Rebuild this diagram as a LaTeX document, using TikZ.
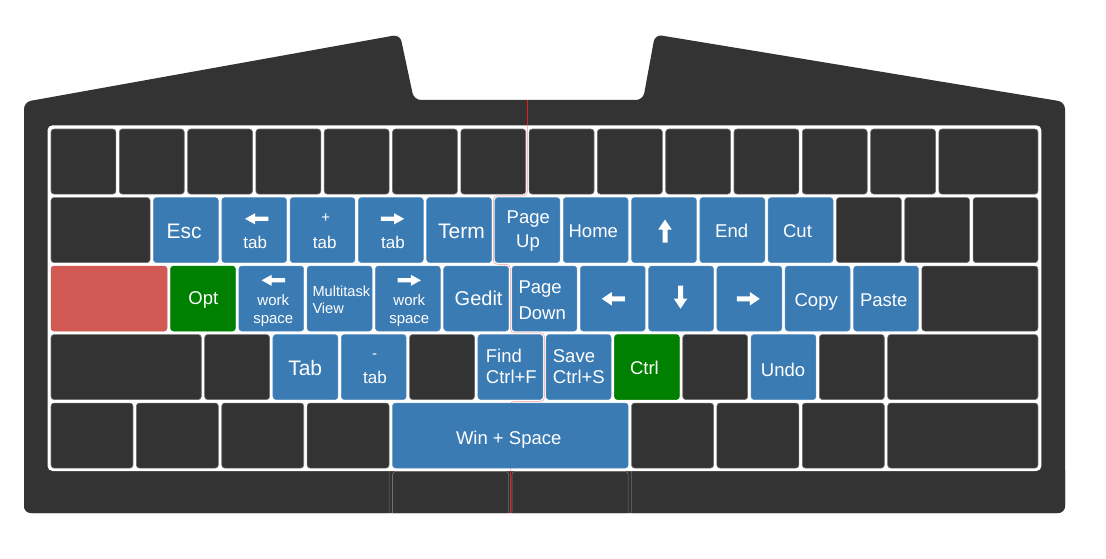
\documentclass[tikz,border=0pt]{standalone}
\usepackage{fontspec}
\setmainfont{Liberation Sans}
\definecolor{keyblue}{HTML}{3B7BB4}
\definecolor{keydark}{HTML}{333333}
\definecolor{keyred}{HTML}{D25A55}
\definecolor{keygreen}{HTML}{008000}
\definecolor{keyrim}{HTML}{707070}
\definecolor{splitred}{HTML}{E02020}
\newcommand\kbkey[5]{%
  \pgfmathsetmacro\kbx{49.3+68.3*(#2+#3/2)}%
  \pgfmathsetmacro\kby{127.3+68.5*(#4+0.5)}%
  \pgfmathsetmacro\kbw{68.3*#3-3.4}%
  \node[keybox,#5,minimum width=\kbw pt] (#1) at (\kbx,\kby) {};}
\tikzset{
  keybox/.style={rectangle,rounded corners=3pt,inner sep=0pt,minimum height=65pt},
  dk/.style={fill=keydark,draw=keyrim,line width=0.6pt},
  bl/.style={fill=keyblue,draw=keyblue!85!white,line width=0.5pt},
  gr/.style={fill=keygreen,draw=keygreen,line width=0.5pt},
  rd/.style={fill=keyred,draw=keyred,line width=0.5pt},
  lb/.style={text=white,inner sep=0pt,anchor=base},
  lbw/.style={lb,anchor=base west},
  fbig/.style={font=\fontsize{21}{25}\selectfont},
  fgedit/.style={font=\fontsize{20}{24}\selectfont},
  fmed/.style={font=\fontsize{18.5}{22}\selectfont},
  ftab/.style={font=\fontsize{17}{20}\selectfont},
  fws/.style={font=\fontsize{15}{18}\selectfont},
  fmt/.style={font=\fontsize{14.6}{17}\selectfont},
  arrS/.pic={\fill[white] (-11.7,0) -- (-1.7,-5.5) -- (-1.7,-2.1) -- (11.7,-2.1) -- (11.7,2.1) -- (-1.7,2.1) -- (-1.7,5.5) -- cycle;},
  arrB/.pic={\fill[white] (-11.5,0) -- (-1.5,-6.7) -- (-1.5,-2.5) -- (11.5,-2.5) -- (11.5,2.5) -- (-1.5,2.5) -- (-1.5,6.7) -- cycle;}
}
\begin{document}
\begin{tikzpicture}[x=1pt,y=-1pt]
\useasboundingbox (0,0) rectangle (1106,559);
% case
\fill[keydark,rounded corners=7pt] (24,300) -- (24,102) -- (400,34.5) -- (414,100) -- (643,100) -- (655,34.5) -- (1065,102) -- (1065,513) -- (24,513) -- cycle;
% thumb row under the plate, cut by the case
\begin{scope}
\clip[rounded corners=7pt] (24,300) -- (24,102) -- (400,34.5) -- (414,100) -- (643,100) -- (655,34.5) -- (1065,102) -- (1065,513) -- (24,513) -- cycle;
\clip (24,470.5) rectangle (1065,520);
\kbkey{r6a}{-2}{7}{4.85}{dk}
\kbkey{r6b}{5}{1.75}{5}{dk}
\kbkey{r6c}{6.75}{1.75}{5}{dk}
\kbkey{r6d}{8.5}{8}{4.85}{dk}
\end{scope}
% plate
\fill[white,rounded corners=5pt] (47.5,125.3) rectangle (1041.4,471);
% split line
\draw[splitred,line width=0.7pt] (527.4,100) -- (527.4,125.3);
\draw[splitred,line width=0.7pt] (510.3,471) -- (510.3,513);
\draw[splitred,line width=0.5pt,opacity=0.45,rounded corners=4pt] (527.4,125.3) -- (527.4,195.8) -- (493.3,195.8) -- (493.3,264.3) -- (510.3,264.3) -- (510.3,332.8) -- (544.5,332.8) -- (544.5,401.3) -- (510.3,401.3) -- (510.3,471);
% row 0
\foreach \c in {0,...,12} {\kbkey{r0c\c}{\c}{1}{0}{dk}}
\kbkey{r0w}{13}{1.5}{0}{dk}
% row 1
\kbkey{r1a}{0}{1.5}{1}{dk}
\kbkey{kEsc}{1.5}{1}{1}{bl}
\kbkey{kPrevTab}{2.5}{1}{1}{bl}
\kbkey{kNewTab}{3.5}{1}{1}{bl}
\kbkey{kNextTab}{4.5}{1}{1}{bl}
\kbkey{kTerm}{5.5}{1}{1}{bl}
\kbkey{kPgUp}{6.5}{1}{1}{bl}
\kbkey{kHome}{7.5}{1}{1}{bl}
\kbkey{kUp}{8.5}{1}{1}{bl}
\kbkey{kEnd}{9.5}{1}{1}{bl}
\kbkey{kCut}{10.5}{1}{1}{bl}
\kbkey{r1b}{11.5}{1}{1}{dk}
\kbkey{r1c}{12.5}{1}{1}{dk}
\kbkey{r1d}{13.5}{1}{1}{dk}
% row 2
\kbkey{kRed}{0}{1.75}{2}{rd}
\kbkey{kOpt}{1.75}{1}{2}{gr}
\kbkey{kPrevWs}{2.75}{1}{2}{bl}
\kbkey{kMulti}{3.75}{1}{2}{bl}
\kbkey{kNextWs}{4.75}{1}{2}{bl}
\kbkey{kGedit}{5.75}{1}{2}{bl}
\kbkey{kPgDn}{6.75}{1}{2}{bl}
\kbkey{kLeft}{7.75}{1}{2}{bl}
\kbkey{kDown}{8.75}{1}{2}{bl}
\kbkey{kRight}{9.75}{1}{2}{bl}
\kbkey{kCopy}{10.75}{1}{2}{bl}
\kbkey{kPaste}{11.75}{1}{2}{bl}
\kbkey{r2a}{12.75}{1.75}{2}{dk}
% row 3
\kbkey{r3a}{0}{2.25}{3}{dk}
\kbkey{r3b}{2.25}{1}{3}{dk}
\kbkey{kTab}{3.25}{1}{3}{bl}
\kbkey{kCloseTab}{4.25}{1}{3}{bl}
\kbkey{r3c}{5.25}{1}{3}{dk}
\kbkey{kFind}{6.25}{1}{3}{bl}
\kbkey{kSave}{7.25}{1}{3}{bl}
\kbkey{kCtrl}{8.25}{1}{3}{gr}
\kbkey{r3d}{9.25}{1}{3}{dk}
\kbkey{kUndo}{10.25}{1}{3}{bl}
\kbkey{r3e}{11.25}{1}{3}{dk}
\kbkey{r3f}{12.25}{2.25}{3}{dk}
% row 4
\kbkey{r4a}{0}{1.25}{4}{dk}
\kbkey{r4b}{1.25}{1.25}{4}{dk}
\kbkey{r4c}{2.5}{1.25}{4}{dk}
\kbkey{r4d}{3.75}{1.25}{4}{dk}
\kbkey{kSpace}{5}{3.5}{4}{bl}
\kbkey{r4e}{8.5}{1.25}{4}{dk}
\kbkey{r4f}{9.75}{1.25}{4}{dk}
\kbkey{r4g}{11}{1.25}{4}{dk}
\kbkey{r4h}{12.25}{2.25}{4}{dk}
% labels row 1
\node[lb,fbig] (tEsc) at (184.2,238.3) {Esc};
\pic (aPrevTab) at (256.7,218.8) {arrS};
\node[lb,ftab] (tPrevTab) at (255.3,248.3) {tab};
\node[lb,fws] (tPlus) at (325.8,222.5) {+};
\node[lb,ftab] (tNewTab) at (324.7,248.3) {tab};
\pic[rotate=180] (aNextTab) at (392.5,218.8) {arrS};
\node[lb,ftab] (tNextTab) at (393,248.3) {tab};
\node[lb,fbig] (tTerm) at (461.4,238.5) {Term};
\node[lb,fmed] (tPgUp1) at (528.3,223.3) {Page};
\node[lb,fmed] (tPgUp2) at (528,247.3) {Up};
\node[lb,fmed] (tHome) at (593.3,237.3) {Home};
\pic[rotate=-90] (aUp) at (665,231) {arrB};
\node[lb,fmed] (tEnd) at (731.7,237.3) {End};
\node[lb,fmed] (tCut) at (797.5,237.3) {Cut};
% labels row 2
\node[lb,fmed] (tOpt) at (203.4,304.3) {Opt};
\pic (aPrevWs) at (273.3,280.3) {arrS};
\node[lb,fws] (tPrevWs1) at (273.3,305) {work};
\node[lb,fws] (tPrevWs2) at (273.3,323) {space};
\node[lbw,fmt] (tMulti1) at (312.3,296.5) {Multitask};
\node[lbw,fmt] (tMulti2) at (312.3,313.3) {View};
\pic[rotate=180] (aNextWs) at (409.2,280.3) {arrS};
\node[lb,fws] (tNextWs1) at (409.3,305) {work};
\node[lb,fws] (tNextWs2) at (409.3,323) {space};
\node[lb,fgedit] (tGedit) at (478.6,305) {Gedit};
\node[lbw,fmed] (tPgDn1) at (518.3,293.3) {Page};
\node[lbw,fmed] (tPgDn2) at (518.3,319.3) {Down};
\pic (aLeft) at (613.3,298.8) {arrB};
\pic[rotate=90] (aDown) at (680.5,297.2) {arrB};
\pic[rotate=180] (aRight) at (748.3,298.8) {arrB};
\node[lb,fmed] (tCopy) at (816.2,306) {Copy};
\node[lb,fmed] (tPaste) at (883.7,306) {Paste};
% labels row 3
\node[lb,fbig] (tTab) at (305.2,375) {Tab};
\node[lb,fws] (tMinus) at (374.6,358.5) {-};
\node[lb,ftab] (tCloseTab) at (375,383.3) {tab};
\node[lbw,fmed] (tFind1) at (485.7,362.7) {Find};
\node[lbw,fmed] (tFind2) at (485.7,383.3) {Ctrl+F};
\node[lbw,fmed] (tSave1) at (552.7,362.7) {Save};
\node[lbw,fmed] (tSave2) at (552.7,383.3) {Ctrl+S};
\node[lb,fmed] (tCtrl) at (644.4,374.3) {Ctrl};
\node[lb,fmed] (tUndo) at (783,376.7) {Undo};
% labels row 4
\node[lb,fmed] (tSpace) at (508.7,444) {Win + Space};
\end{tikzpicture}
\end{document}
